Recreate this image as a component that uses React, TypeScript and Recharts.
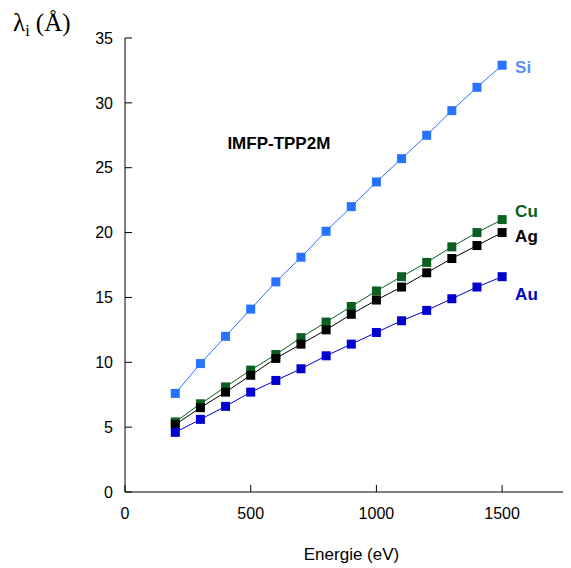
import React from 'react'
import { LineChart, Line, XAxis, YAxis, ReferenceDot, LabelList } from 'recharts'

const energies = [200, 300, 400, 500, 600, 700, 800, 900, 1000, 1100, 1200, 1300, 1400, 1500]
const si = [7.6, 9.9, 12.0, 14.1, 16.2, 18.1, 20.1, 22.0, 23.9, 25.7, 27.5, 29.4, 31.2, 32.9]
const cu = [5.4, 6.8, 8.1, 9.4, 10.6, 11.9, 13.1, 14.3, 15.5, 16.6, 17.7, 18.9, 20.0, 21.0]
const ag = [5.2, 6.5, 7.7, 9.0, 10.3, 11.4, 12.5, 13.7, 14.8, 15.8, 16.9, 18.0, 19.0, 20.0]
const au = [4.6, 5.6, 6.6, 7.7, 8.6, 9.5, 10.5, 11.4, 12.3, 13.2, 14.0, 14.9, 15.8, 16.6]
const xTicks = [0, 500, 1000, 1500]
const yTicks = [0, 5, 10, 15, 20, 25, 30, 35]

const data = energies.map((e, i) => ({ e, si: si[i], cu: cu[i], ag: ag[i], au: au[i] }))

const series = [
  { key: 'si', name: 'Si', color: '#2673ff', labelColor: '#5b8cff', dy: 2 },
  { key: 'cu', name: 'Cu', color: '#0a6020', labelColor: '#0a6020', dy: -8 },
  { key: 'ag', name: 'Ag', color: '#000000', labelColor: '#000000', dy: 4 },
  { key: 'au', name: 'Au', color: '#0000d0', labelColor: '#0000d0', dy: 18 },
]

const font = '"Liberation Sans", Arial, Helvetica, sans-serif'

const Square = (color: string) => (props: any) => {
  const { cx, cy } = props
  if (cx == null || cy == null) return null
  return <rect x={cx - 4.5} y={cy - 4.5} width={9} height={9} fill={color} />
}

export default function App() {
  return (
    <div style={{ position: 'relative', width: 563, height: 560 }}>
      <div
        style={{
          position: 'absolute',
          left: 5,
          top: 0,
          fontFamily: '"Liberation Serif", "Times New Roman", serif',
          fontSize: 25,
          lineHeight: '30px',
        }}
      >
        λ<sub style={{ fontSize: 16, verticalAlign: '-5px' }}>i</sub> (Å)
      </div>
      <LineChart width={563} height={560} data={data} margin={{ top: 30, right: 1, bottom: 0, left: 0 }}>
        <XAxis
          dataKey="e"
          type="number"
          domain={[0, 1770]}
          ticks={xTicks}
          allowDataOverflow
          height={76}
          stroke="#000"
          tickSize={-7}
          tickMargin={23}
          tick={{ fill: '#000', fontSize: 16, fontFamily: font }}
          label={{ value: 'Energie (eV)', position: 'insideBottom', offset: 8, dx: 4, fill: '#000', fontSize: 17, fontFamily: font }}
        />
        <YAxis
          type="number"
          domain={[0, 35]}
          ticks={yTicks}
          width={117}
          stroke="#000"
          tickSize={-7}
          tickMargin={19}
          tick={{ fill: '#000', fontSize: 16, fontFamily: font }}
        />
        <ReferenceDot
          x={612}
          y={26.9}
          r={0}
          label={{ value: 'IMFP-TPP2M', position: 'center', fill: '#000', fontSize: 17, fontWeight: 'bold', fontFamily: font }}
        />
        {series.map((s) => (
          <Line
            key={s.key}
            dataKey={s.key}
            stroke={s.color}
            strokeWidth={1}
            dot={Square(s.color)}
            activeDot={false}
            isAnimationActive={false}
          >
            <LabelList
              dataKey={s.key}
              content={(p: any) =>
                p.index === energies.length - 1 ? (
                  <text
                    x={p.x + 13}
                    y={p.y + s.dy}
                    dominantBaseline="central"
                    fill={s.labelColor}
                    fontSize={17}
                    fontWeight="bold"
                    fontFamily={font}
                  >
                    {s.name}
                  </text>
                ) : null
              }
            />
          </Line>
        ))}
      </LineChart>
    </div>
  )
}
